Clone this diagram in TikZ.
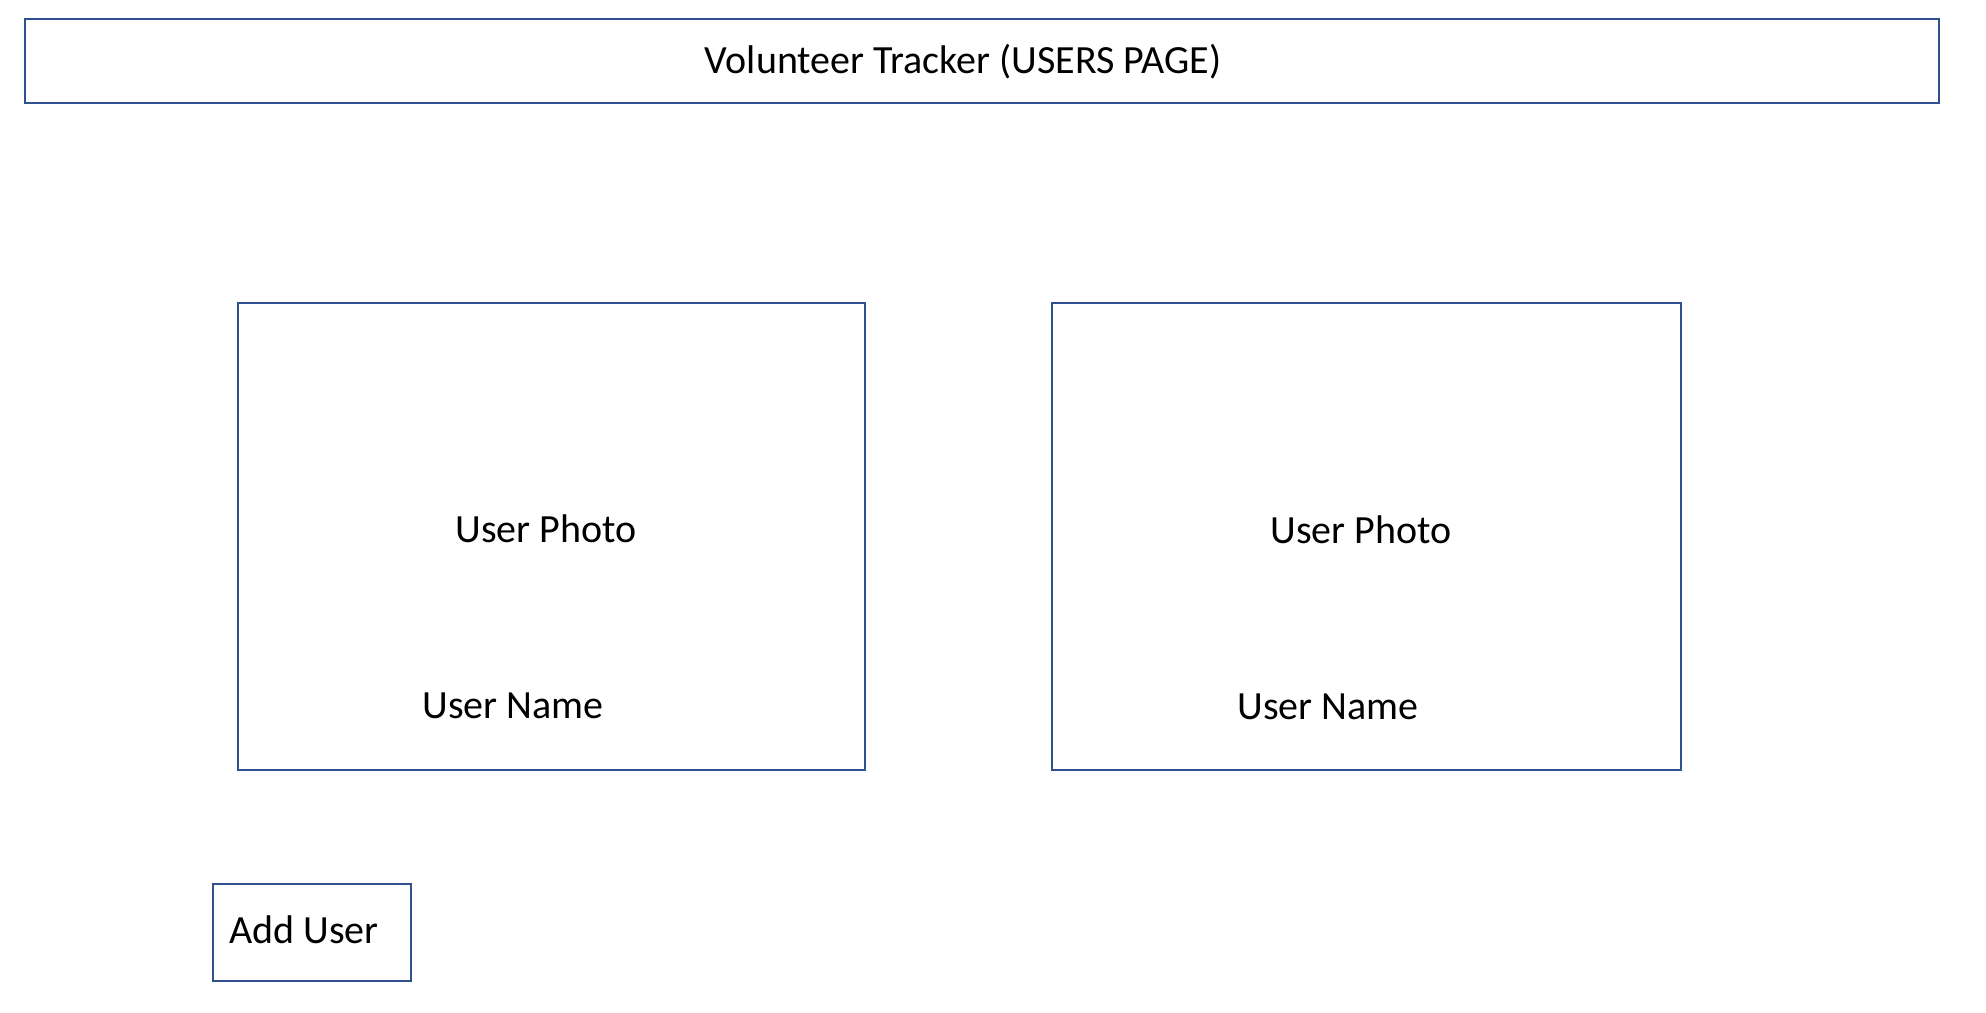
\documentclass[tikz,border=0pt]{standalone}
\usepackage{fontspec}
\setmainfont{Carlito}
\usepackage{tikz}
\definecolor{frameblue}{HTML}{2F528F}
\tikzset{
  frame/.style={draw=frameblue, line width=1.2pt, inner sep=0pt},
  caption/.style={inner sep=0pt, font=\fontsize{20pt}{24pt}\selectfont}
}

\begin{document}
\begin{tikzpicture}[x=0.5pt,y=-0.5pt]
      \useasboundingbox (0,0) rectangle (1986,1012);
      % boxes
      \node[frame, minimum width=957pt, minimum height=42pt] at (982,61) (titlebox) {};
      \node[frame, minimum width=313.5pt, minimum height=233.5pt] at (551.5,536.5) (cardA) {};
      \node[frame, minimum width=314.5pt, minimum height=233.5pt] at (1366.5,536.5) (cardB) {};
      \node[frame, minimum width=99pt, minimum height=48.5pt] at (312,932.5) (addbox) {};
      % texts
      \node[caption, anchor=base] at (963,73) (title) {Volunteer Tracker (USERS PAGE)};
      \node[caption, anchor=base west] at (455,542) (photoA) {User Photo};
      \node[caption, anchor=base west] at (422,718) (nameA) {User Name};
      \node[caption, anchor=base west] at (1270,543) (photoB) {User Photo};
      \node[caption, anchor=base west] at (1237,719) (nameB) {User Name};
      \node[caption, anchor=base west] at (229,943) (addtext) {Add User};
    \end{tikzpicture}
\end{document}
